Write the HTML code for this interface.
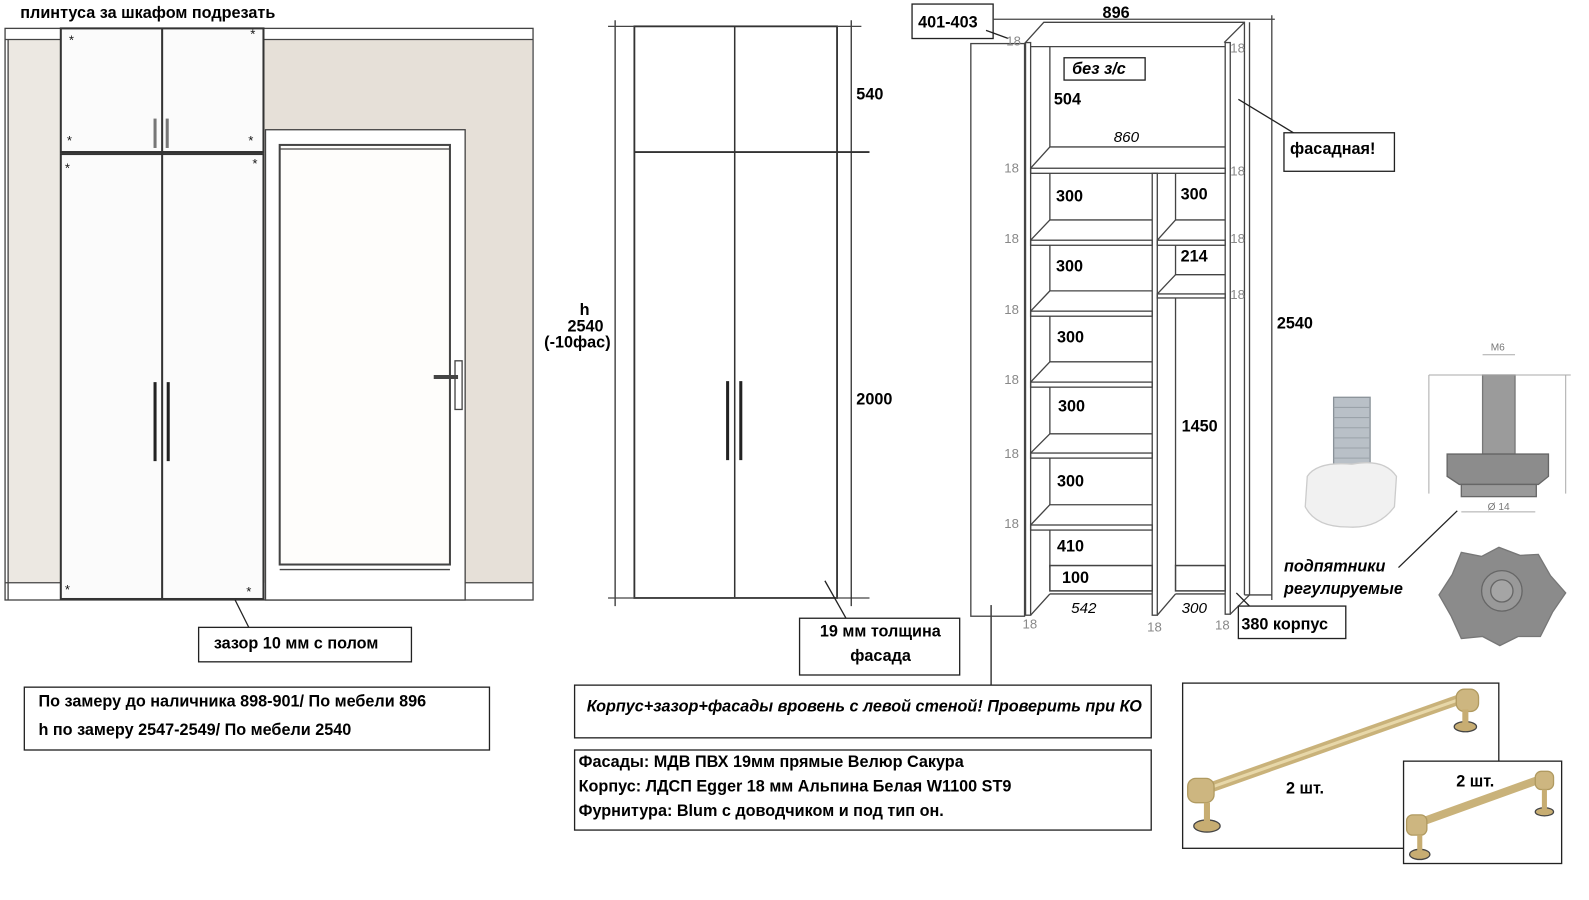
<!DOCTYPE html>
<html><head><meta charset="utf-8"><style>
html,body{margin:0;padding:0;background:#fff}
svg{display:block}
text{font-family:"Liberation Sans","DejaVu Sans",sans-serif}
.b{font-weight:bold;font-size:16px;fill:#000}
.g{font-size:13px;fill:#888}
.i{font-style:italic}
</style></head><body>
<svg width="1589" height="900" viewBox="0 0 1568 888" preserveAspectRatio="none" xmlns="http://www.w3.org/2000/svg" fill="none" stroke="#444" stroke-width="1.3">
<!-- LEFT: wall view -->
<text x="20" y="18" class="b" stroke="none" font-size="15">плинтуса за шкафом подрезать</text>
<rect x="5" y="28" width="521" height="564" fill="#fff"/>
<rect x="8" y="39" width="52" height="536" fill="#ece8e2" stroke="none"/>
<rect x="260" y="39" width="265" height="536" fill="#e6e0d8" stroke="none"/>
<line x1="5" y1="39" x2="526" y2="39"/>
<line x1="8" y1="39" x2="8" y2="592"/>
<line x1="5" y1="575" x2="60" y2="575"/>
<line x1="459" y1="575" x2="526" y2="575"/>
<!-- door frame -->
<rect x="262" y="128" width="197" height="464" fill="#fff"/>
<rect x="276" y="143" width="168" height="414" fill="#fefdfb" stroke-width="2"/>
<line x1="276" y1="147" x2="444" y2="147"/>
<line x1="276" y1="562" x2="444" y2="562"/>
<rect x="449" y="356" width="7" height="48" fill="#fff"/>
<line x1="428" y1="372" x2="452" y2="372" stroke-width="4"/>
<!-- cabinet -->
<rect x="60" y="28" width="200" height="122" fill="#fbfbfb" stroke="#333" stroke-width="2"/>
<rect x="60" y="152" width="200" height="439" fill="#fbfbfb" stroke="#333" stroke-width="2"/>
<line x1="160" y1="28" x2="160" y2="591" stroke="#333" stroke-width="2"/>
<line x1="153" y1="117" x2="153" y2="146" stroke="#777" stroke-width="3"/>
<line x1="165" y1="117" x2="165" y2="146" stroke="#777" stroke-width="3"/>
<line x1="153" y1="377" x2="153" y2="455" stroke="#222" stroke-width="3"/>
<line x1="166" y1="377" x2="166" y2="455" stroke="#222" stroke-width="3"/>
<g stroke="none" fill="#111" font-size="13"><text x="68" y="44" >*</text><text x="247" y="38">*</text><text x="66" y="143">*</text><text x="245" y="143">*</text><text x="64" y="170">*</text><text x="249" y="166">*</text><text x="64" y="586">*</text><text x="243" y="588">*</text></g>
<line x1="232" y1="592" x2="246" y2="620" stroke="#222"/>
<rect x="196" y="619" width="210" height="34" fill="#fff" stroke="#222"/>
<text x="211" y="640" class="b" stroke="none" font-size="15">зазор 10 мм с полом</text>
<rect x="24" y="678" width="459" height="62" fill="#fff" stroke="#222"/>
<text x="38" y="697" class="b" stroke="none">По замеру до наличника 898-901/ По мебели 896</text>
<text x="38" y="725" class="b" stroke="none">h по замеру 2547-2549/ По мебели 2540</text>

<!-- MIDDLE: wardrobe -->
<rect x="626" y="26" width="200" height="564" stroke="#333" stroke-width="1.8"/>
<line x1="626" y1="150" x2="858" y2="150" stroke="#333" stroke-width="1.8"/>
<line x1="725" y1="26" x2="725" y2="590" stroke="#333" stroke-width="1.5"/>
<line x1="718" y1="376" x2="718" y2="454" stroke="#222" stroke-width="3"/>
<line x1="731" y1="376" x2="731" y2="454" stroke="#222" stroke-width="3"/>
<line x1="607" y1="20" x2="607" y2="598" stroke="#333"/>
<line x1="600" y1="26" x2="626" y2="26"/>
<line x1="600" y1="590" x2="858" y2="590"/>
<line x1="840" y1="20" x2="840" y2="598" stroke="#333"/>
<line x1="826" y1="26" x2="850" y2="26"/>
<text x="845" y="98" class="b" stroke="none">540</text>
<text x="845" y="399" class="b" stroke="none">2000</text>
<text x="572" y="311" class="b" stroke="none">h</text>
<text x="560" y="327" class="b" stroke="none">2540</text>
<text x="537" y="343" class="b" stroke="none">(-10фас)</text>
<line x1="814" y1="573" x2="836" y2="612" stroke="#222"/>
<rect x="789" y="610" width="158" height="56" fill="#fff" stroke="#222"/>
<text x="809" y="628" class="b" stroke="none">19 мм толщина</text>
<text x="839" y="652" class="b" stroke="none">фасада</text>
<line x1="978" y1="597" x2="978" y2="676" stroke="#222"/>
<rect x="567" y="676" width="569" height="52" fill="#fff" stroke="#222"/>
<text x="579" y="702" class="b i" stroke="none" font-size="15">Корпус+зазор+фасады вровень с левой стеной! Проверить при КО</text>
<rect x="567" y="740" width="569" height="79" fill="#fff" stroke="#222"/>
<text x="571" y="757" class="b" stroke="none">Фасады: МДВ ПВХ 19мм прямые Велюр Сакура</text>
<text x="571" y="781" class="b" stroke="none">Корпус: ЛДСП Egger 18 мм Альпина Белая W1100 ST9</text>
<text x="571" y="805" class="b" stroke="none">Фурнитура: Blum с доводчиком и под тип он.</text>

<!-- RIGHT: carcass -->
<rect x="900" y="4" width="80" height="34" fill="#fff" stroke="#222"/>
<text x="906" y="27" class="b" stroke="none">401-403</text>
<line x1="973" y1="30" x2="995" y2="38" stroke="#222"/>
<text x="1088" y="18" class="b" stroke="none">896</text>
<line x1="980" y1="19" x2="1258" y2="19"/>
<line x1="1255" y1="15" x2="1255" y2="592"/>
<text x="1260" y="324" class="b" stroke="none">2540</text>
<rect x="958" y="43" width="53" height="565"/>
<polyline points="1011,43 1030,22 1228,22 1228,587"/>
<line x1="1208" y1="42" x2="1228" y2="22"/>
<line x1="1233" y1="22" x2="1233" y2="587"/>
<line x1="1228" y1="587" x2="1255" y2="587"/>
<rect x="1012" y="42" width="5" height="565"/>
<line x1="1017" y1="46" x2="1209" y2="46"/>
<rect x="1209" y="42" width="5" height="564"/>
<polyline points="1036,46 1036,145 1209,145"/>
<line x1="1017" y1="166" x2="1036" y2="145"/>
<g>
<rect x="1017" y="166" width="192" height="5"/>
<rect x="1137" y="171" width="5" height="436"/>
<rect x="1017" y="237" width="120" height="5"/><rect x="1142" y="237" width="67" height="5"/>
<rect x="1017" y="307" width="120" height="5"/>
<rect x="1142" y="290" width="67" height="4"/>
<rect x="1017" y="377" width="120" height="5"/>
<rect x="1017" y="447" width="120" height="5"/>
<rect x="1017" y="518" width="120" height="5"/>
</g>
<polyline points="1036,171 1036,217 1137,217"/><line x1="1017" y1="237" x2="1036" y2="217"/>
<polyline points="1036,242 1036,287 1137,287"/><line x1="1017" y1="307" x2="1036" y2="287"/>
<polyline points="1036,312 1036,357 1137,357"/><line x1="1017" y1="377" x2="1036" y2="357"/>
<polyline points="1036,382 1036,428 1137,428"/><line x1="1017" y1="447" x2="1036" y2="428"/>
<polyline points="1036,452 1036,498 1137,498"/><line x1="1017" y1="518" x2="1036" y2="498"/>
<polyline points="1036,523 1036,560"/>
<polyline points="1160,171 1160,217 1209,217"/><line x1="1142" y1="237" x2="1160" y2="217"/>
<polyline points="1160,242 1160,271 1209,271"/><line x1="1142" y1="290" x2="1160" y2="271"/>
<line x1="1160" y1="294" x2="1160" y2="558"/>
<rect x="1036" y="558" width="101" height="25" stroke-width="1.5"/>
<rect x="1160" y="558" width="49" height="25" stroke-width="1.5"/>
<line x1="1036" y1="586" x2="1137" y2="586"/><line x1="1160" y1="586" x2="1209" y2="586"/>
<line x1="1017" y1="607" x2="1036" y2="586"/><line x1="1142" y1="607" x2="1160" y2="586"/>
<line x1="1214" y1="606" x2="1233" y2="587"/>
<rect x="1050" y="57" width="80" height="22" fill="#fff" stroke="#222"/>
<text x="1058" y="73" class="b i" stroke="none" font-weight="normal" font-size="16">без з/с</text>
<g class="b" stroke="none">
<text x="1040" y="103">504</text>
<text x="1042" y="199">300</text><text x="1165" y="197">300</text>
<text x="1042" y="268">300</text><text x="1165" y="258">214</text>
<text x="1043" y="338">300</text>
<text x="1044" y="406">300</text><text x="1166" y="426">1450</text>
<text x="1043" y="480">300</text>
<text x="1043" y="544">410</text>
<text x="1048" y="575">100</text>
</g>
<g class="i" stroke="none" fill="#000" font-size="15"><text x="1099" y="140">860</text><text x="1057" y="605">542</text><text x="1166" y="605">300</text></g>
<g class="g" stroke="none">
<text x="993" y="45">18</text><text x="1214" y="52">18</text>
<text x="991" y="170">18</text><text x="1214" y="173">18</text>
<text x="991" y="240">18</text><text x="1214" y="240">18</text>
<text x="991" y="310">18</text><text x="1214" y="295">18</text>
<text x="991" y="379">18</text>
<text x="991" y="452">18</text>
<text x="991" y="521">18</text>
<text x="1009" y="620">18</text><text x="1132" y="623">18</text><text x="1199" y="621">18</text>
</g>
<line x1="1222" y1="98" x2="1278" y2="132" stroke="#222"/>
<rect x="1267" y="131" width="109" height="38" fill="#fff" stroke="#222"/>
<text x="1273" y="152" class="b" stroke="none">фасадная!</text>
<line x1="1220" y1="585" x2="1235" y2="600" stroke="#222"/>
<rect x="1222" y="598" width="106" height="32" fill="#fff" stroke="#222"/>
<text x="1225" y="621" class="b" stroke="none">380 корпус</text>

<!-- feet -->
<rect x="1316" y="392" width="36" height="68" fill="#b9c0c7" stroke="#8a9299"/>
<g stroke="#9aa2a9" stroke-width="1"><line x1="1316" y1="402" x2="1352" y2="402"/><line x1="1316" y1="412" x2="1352" y2="412"/><line x1="1316" y1="422" x2="1352" y2="422"/><line x1="1316" y1="432" x2="1352" y2="432"/><line x1="1316" y1="442" x2="1352" y2="442"/><line x1="1316" y1="452" x2="1352" y2="452"/></g>
<path d="M1290,470 Q1300,455 1334,458 Q1366,452 1378,470 L1376,500 Q1360,522 1330,520 Q1298,520 1288,500 Z" fill="#f1f1f1" stroke="#ccc"/>
<text x="1471" y="346" font-size="10" fill="#777" stroke="none">M6</text>
<rect x="1463" y="370" width="32" height="78" fill="#9b9b9b" stroke="#777"/>
<polygon points="1428,448 1528,448 1528,470 1518,478 1440,478 1428,470" fill="#8c8c8c" stroke="#666"/>
<rect x="1442" y="478" width="74" height="12" fill="#9a9a9a" stroke="#666"/>
<g stroke="#aaa" stroke-width="1"><line x1="1410" y1="370" x2="1550" y2="370"/><line x1="1410" y1="370" x2="1410" y2="487"/><line x1="1545" y1="370" x2="1545" y2="487"/><line x1="1442" y1="505" x2="1515" y2="505"/><line x1="1463" y1="350" x2="1495" y2="350"/></g>
<text x="1468" y="503" font-size="10" fill="#777" stroke="none">Ø 14</text>
<polygon points="1479,540 1500,548 1518,547 1530,568 1545,585 1532,604 1520,628 1498,628 1480,637 1463,628 1442,630 1432,608 1420,587 1433,567 1442,545 1462,549" fill="#8b8b8b" stroke="#777"/>
<circle cx="1482" cy="583" r="20" fill="#999" stroke="#666"/>
<circle cx="1482" cy="583" r="11" fill="#a5a5a5" stroke="#666"/>
<line x1="1380" y1="560" x2="1438" y2="504" stroke="#222"/>
<g class="b i" stroke="none" font-weight="bold" fill="#000" font-size="15"><text x="1267" y="564">подпятники</text><text x="1267" y="586">регулируемые</text></g>

<!-- handles -->
<rect x="1167" y="674" width="312" height="163" fill="#fff" stroke="#222"/>
<line x1="1186" y1="780" x2="1446" y2="688" stroke="#c9b27a" stroke-width="10" stroke-linecap="round"/>
<line x1="1186" y1="780" x2="1446" y2="688" stroke="#e7d7a8" stroke-width="3"/>
<rect x="1172" y="768" width="26" height="24" rx="8" fill="#cdb680" stroke="#b09a60"/>
<rect x="1437" y="680" width="22" height="22" rx="8" fill="#cdb680" stroke="#b09a60"/>
<ellipse cx="1191" cy="815" rx="13" ry="6" fill="#c7ad72"/><line x1="1191" y1="792" x2="1191" y2="812" stroke="#c7ad72" stroke-width="6"/>
<ellipse cx="1446" cy="717" rx="11" ry="5" fill="#c7ad72"/><line x1="1446" y1="700" x2="1446" y2="714" stroke="#c7ad72" stroke-width="6"/>
<text x="1269" y="783" class="b" stroke="none">2 шт.</text>
<rect x="1385" y="751" width="156" height="101" fill="#fff" stroke="#222"/>
<line x1="1400" y1="812" x2="1522" y2="768" stroke="#c9b27a" stroke-width="8" stroke-linecap="round"/>
<rect x="1388" y="804" width="20" height="20" rx="6" fill="#cdb680" stroke="#b09a60"/>
<rect x="1515" y="761" width="18" height="18" rx="6" fill="#cdb680" stroke="#b09a60"/>
<ellipse cx="1401" cy="843" rx="10" ry="5" fill="#c7ad72"/><line x1="1401" y1="824" x2="1401" y2="840" stroke="#c7ad72" stroke-width="5"/>
<ellipse cx="1524" cy="801" rx="9" ry="4" fill="#c7ad72"/><line x1="1524" y1="779" x2="1524" y2="798" stroke="#c7ad72" stroke-width="5"/>
<text x="1437" y="776" class="b" stroke="none">2 шт.</text>
</svg>
</body></html>
